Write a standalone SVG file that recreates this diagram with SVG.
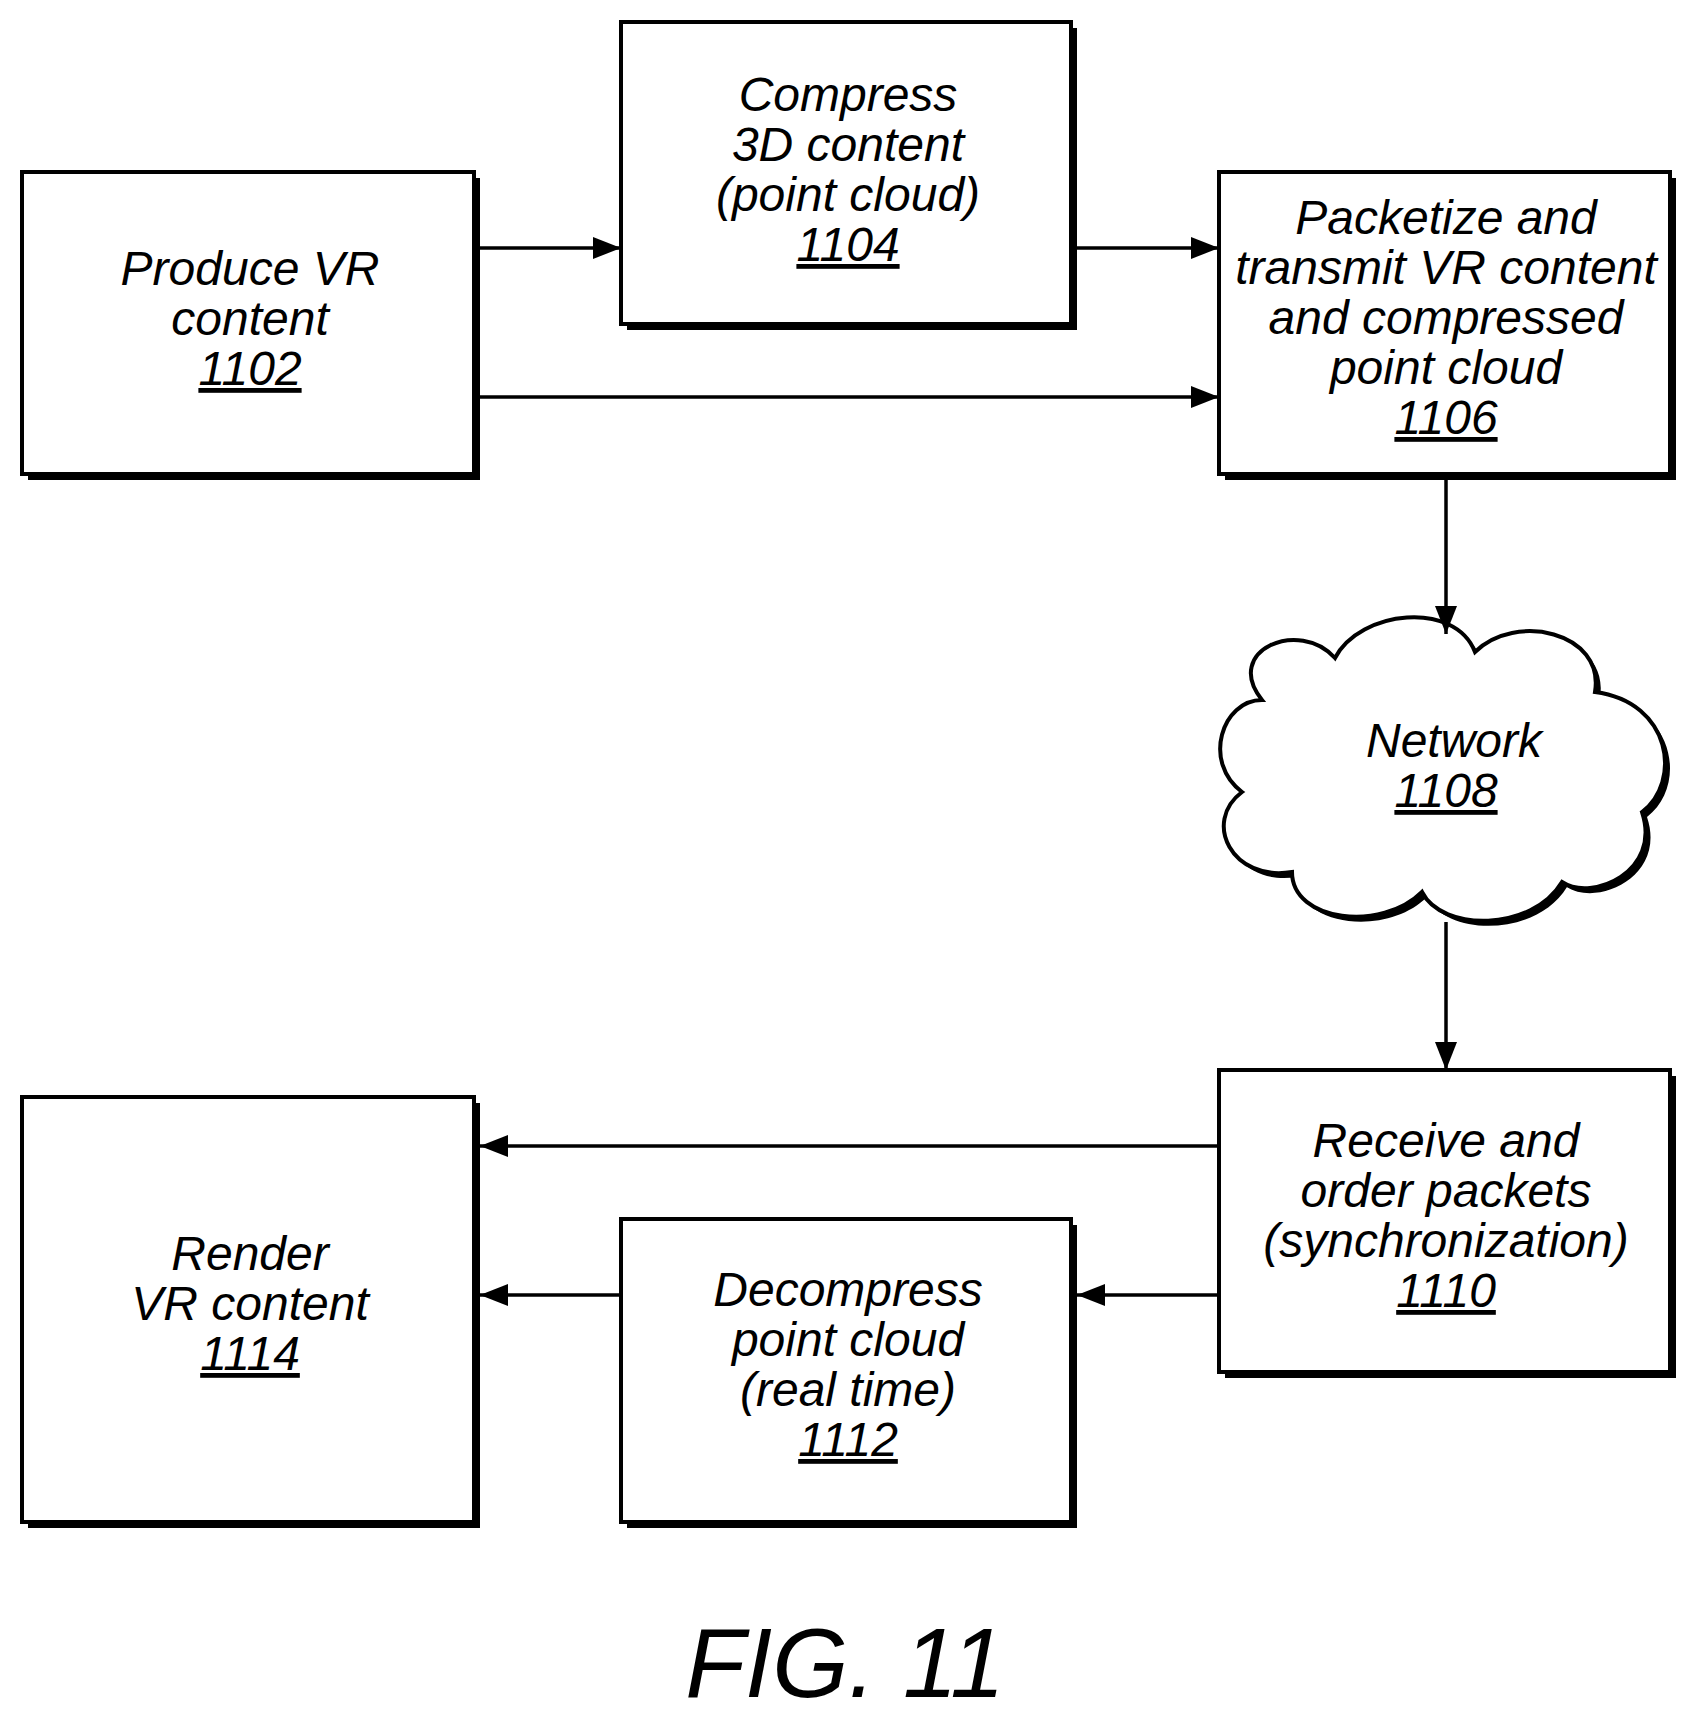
<svg xmlns="http://www.w3.org/2000/svg" width="1703" height="1725" viewBox="0 0 1703 1725">
<defs>
<marker id="a" viewBox="0 0 28 22" markerWidth="28" markerHeight="22" refX="28" refY="11" orient="auto" markerUnits="userSpaceOnUse"><path d="M0,0 L28,11 L0,22 Z" fill="#000"/></marker>
</defs>
<style>
.sh{fill:#000}
.bx{fill:#fff;stroke:#000;stroke-width:4}
.t{font-family:"Liberation Sans",Arial,sans-serif;font-style:italic;font-size:48px;text-anchor:middle;fill:#000}
.u{text-decoration:underline}
.c{stroke:#000;stroke-width:3.5;fill:none;marker-end:url(#a)}
</style>
<rect width="1703" height="1725" fill="#fff"/>
<g id="n1102"><rect class="sh" x="28" y="178" width="452" height="302"/><rect class="bx" x="22" y="172" width="452" height="302"/>
<text class="t" x="250" y="285">Produce VR</text><text class="t" x="250" y="335">content</text><text class="t u" x="250" y="385">1102</text></g>
<g id="n1104"><rect class="sh" x="627" y="28" width="450" height="302"/><rect class="bx" x="621" y="22" width="450" height="302"/>
<text class="t" x="848" y="111">Compress</text><text class="t" x="848" y="161">3D content</text><text class="t" x="848" y="211">(point cloud)</text><text class="t u" x="848" y="261">1104</text></g>
<g id="n1106"><rect class="sh" x="1225" y="178" width="451" height="302"/><rect class="bx" x="1219" y="172" width="451" height="302"/>
<text class="t" x="1446" y="234">Packetize and</text><text class="t" x="1446" y="284">transmit VR content</text><text class="t" x="1446" y="334">and compressed</text><text class="t" x="1446" y="384">point cloud</text><text class="t u" x="1446" y="434">1106</text></g>
<g id="n1108"><path d="M1262 700 C1222 650 1300 618 1335 658 C1360 610 1455 600 1475 652 C1515 612 1605 632 1595 692 C1672 702 1682 782 1642 812 C1662 872 1592 902 1562 882 C1532 932 1442 932 1422 892 C1382 932 1292 922 1292 872 C1232 882 1202 822 1242 792 C1202 762 1222 700 1262 700 Z" fill="#000" transform="translate(5,5)"/>
<path d="M1262 700 C1222 650 1300 618 1335 658 C1360 610 1455 600 1475 652 C1515 612 1605 632 1595 692 C1672 702 1682 782 1642 812 C1662 872 1592 902 1562 882 C1532 932 1442 932 1422 892 C1382 932 1292 922 1292 872 C1232 882 1202 822 1242 792 C1202 762 1222 700 1262 700 Z" class="bx"/>
<text class="t" x="1454" y="757">Network</text><text class="t u" x="1446" y="807">1108</text></g>
<g id="n1110"><rect class="sh" x="1225" y="1076" width="451" height="302"/><rect class="bx" x="1219" y="1070" width="451" height="302"/>
<text class="t" x="1446" y="1157">Receive and</text><text class="t" x="1446" y="1207">order packets</text><text class="t" x="1446" y="1257">(synchronization)</text><text class="t u" x="1446" y="1307">1110</text></g>
<g id="n1112"><rect class="sh" x="627" y="1225" width="450" height="303"/><rect class="bx" x="621" y="1219" width="450" height="303"/>
<text class="t" x="848" y="1306">Decompress</text><text class="t" x="848" y="1356">point cloud</text><text class="t" x="848" y="1406">(real time)</text><text class="t u" x="848" y="1456">1112</text></g>
<g id="n1114"><rect class="sh" x="28" y="1103" width="452" height="425"/><rect class="bx" x="22" y="1097" width="452" height="425"/>
<text class="t" x="250" y="1270">Render</text><text class="t" x="250" y="1320">VR content</text><text class="t u" x="250" y="1370">1114</text></g>
<g id="connectors">
<line class="c" x1="480" y1="248" x2="621" y2="248"/>
<line class="c" x1="480" y1="397" x2="1219" y2="397"/>
<line class="c" x1="1077" y1="248" x2="1219" y2="248"/>
<line class="c" x1="1446" y1="480" x2="1446" y2="634"/>
<line class="c" x1="1446" y1="922" x2="1446" y2="1070"/>
<line class="c" x1="1219" y1="1146" x2="480" y2="1146"/>
<line class="c" x1="1219" y1="1295" x2="1077" y2="1295"/>
<line class="c" x1="621" y1="1295" x2="480" y2="1295"/>
</g>
<text x="845" y="1697" style="font-family:'Liberation Sans',Arial,sans-serif;font-style:italic;font-size:98px;text-anchor:middle">FIG. 11</text>
</svg>
